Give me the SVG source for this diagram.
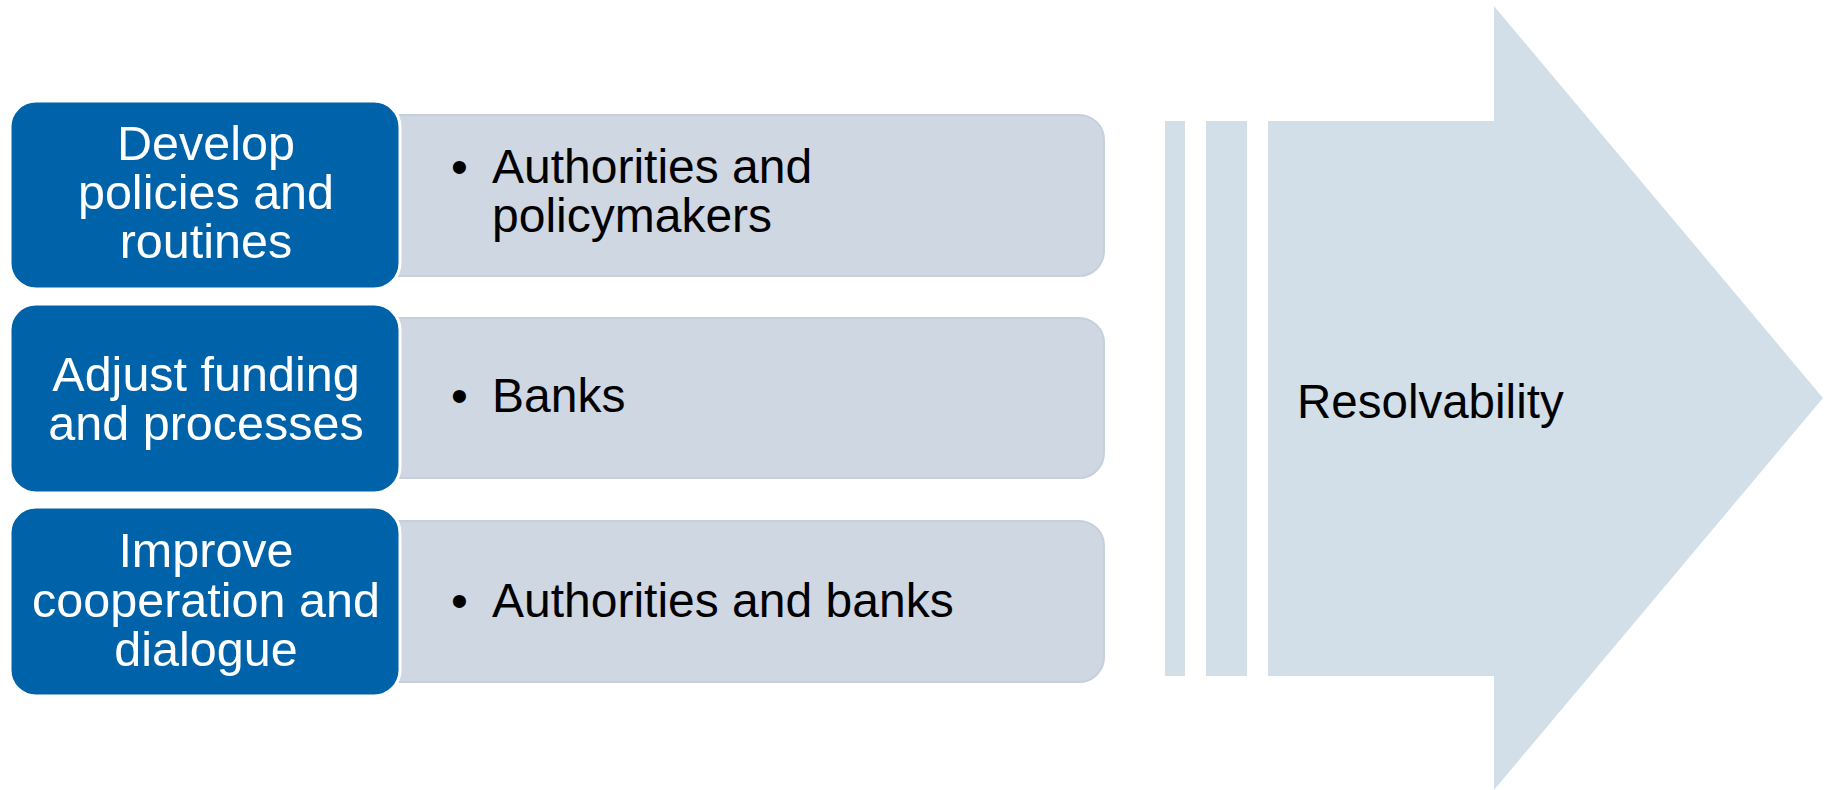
<svg xmlns="http://www.w3.org/2000/svg" width="1824" height="790" viewBox="0 0 1824 790">
  <style>
    .detail { fill: #CFD7E3; stroke: #C6CFDC; stroke-width: 2; }
    .step { fill: #0062A8; stroke: #FFFFFF; stroke-width: 3; }
    .stepText { font-family: "Liberation Sans", Arial, sans-serif; font-size: 48.5px; fill: #FFFFFF; text-anchor: middle; }
    .detailText { font-family: "Liberation Sans", Arial, sans-serif; font-size: 48px; fill: #000000; }
    .goal { fill: #D3DFE8; }
    .goalText { font-family: "Liberation Sans", Arial, sans-serif; font-size: 47.5px; fill: #000000; }
  </style>

  <!-- Big goal arrow with the three leading stripes -->
  <g id="goal-arrow">
    <rect class="goal" x="1165" y="121" width="20" height="555"/>
    <rect class="goal" x="1206" y="121" width="41" height="555"/>
    <polygon class="goal" points="1268,121 1494,121 1494,6 1823,398 1494,790 1494,676 1268,676"/>
    <text class="goalText" x="1297" y="418">Resolvability</text>
  </g>

  <!-- Row 1 -->
  <g id="row-policies">
    <rect class="detail" x="370" y="115" width="734" height="161" rx="25" ry="25"/>
    <rect class="step" x="10" y="101" width="390" height="188" rx="26" ry="26"/>
    <text class="stepText" x="206" y="160">Develop</text>
    <text class="stepText" x="206" y="209">policies and</text>
    <text class="stepText" x="206" y="258">routines</text>
    <text class="detailText" x="451" y="183">•</text>
    <text class="detailText" x="492" y="183">Authorities and</text>
    <text class="detailText" x="492" y="232">policymakers</text>
  </g>

  <!-- Row 2 -->
  <g id="row-funding">
    <rect class="detail" x="370" y="318" width="734" height="160" rx="25" ry="25"/>
    <rect class="step" x="10" y="304" width="390" height="189" rx="26" ry="26"/>
    <text class="stepText" x="206" y="391">Adjust funding</text>
    <text class="stepText" x="206" y="440">and processes</text>
    <text class="detailText" x="451" y="412">•</text>
    <text class="detailText" x="492" y="412">Banks</text>
  </g>

  <!-- Row 3 -->
  <g id="row-cooperation">
    <rect class="detail" x="370" y="521" width="734" height="161" rx="25" ry="25"/>
    <rect class="step" x="10" y="507" width="390" height="189" rx="26" ry="26"/>
    <text class="stepText" x="206" y="567">Improve</text>
    <text class="stepText" x="206" y="617">cooperation and</text>
    <text class="stepText" x="206" y="666">dialogue</text>
    <text class="detailText" x="451" y="617">•</text>
    <text class="detailText" x="492" y="617">Authorities and banks</text>
  </g>

  <g id="connectors"/>
</svg>
